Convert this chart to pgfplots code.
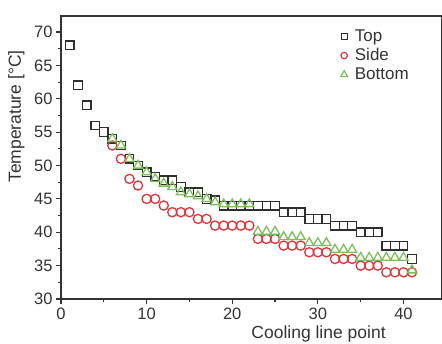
\documentclass[border=0pt]{standalone}
\usepackage{pgfplots}
\pgfplotsset{compat=1.18}
\usepackage{pgfplotstable}
\usepackage{fontspec}
\setmainfont{Liberation Sans}
\definecolor{axgray}{HTML}{333333}
\definecolor{sqcol}{HTML}{2E2E2E}
\definecolor{circcol}{HTML}{E0343A}
\definecolor{tricol}{HTML}{7DBE5C}

\pgfplotstableread{
x y
1 68
2 62
3 59
4 56
5 55
6 54
7 53
8 51
9 50
10 49
11 48.3
12 47.8
13 47.8
14 46.8
15 46
16 46
17 45
18 44.8
19 44
20 44
21 44
22 44
23 44
24 44
25 44
26 43
27 43
28 43
29 42
30 42
31 42
32 41
33 41
34 41
35 40
36 40
37 40
38 38
39 38
40 38
41 36
}\toptab

\pgfplotstableread{
x y
6 53
7 51
8 48
9 47
10 45
11 45
12 44
13 43
14 43
15 43
16 42
17 42
18 41
19 41
20 41
21 41
22 41
23 39
24 39
25 39
26 38
27 38
28 38
29 37
30 37
31 37
32 36
33 36
34 36
35 35
36 35
37 35
38 34
39 34
40 34
41 34
}\sidetab

\pgfplotstableread{
x y
6 54
7 53
8 51
9 50
10 49
11 48
12 47.3
13 46.8
14 46
15 45.7
16 45.4
17 45
18 44.5
19 44.2
20 44.2
21 44.2
22 44.2
23 40.1
24 40.1
25 40.1
26 39.3
27 39.3
28 39.3
29 38.4
30 38.4
31 38.4
32 37.4
33 37.4
34 37.4
35 36.2
36 36.2
37 36.2
38 36.2
39 36.2
40 36.2
41 34.3
}\bottab

\begin{document}
\begin{tikzpicture}
\begin{axis}[
  width=381pt, height=283pt,
  scale only axis,
  xmin=0, xmax=44.5,
  ymin=30, ymax=72.4,
  xtick={0,10,20,30,40},
  ytick={30,35,40,45,50,55,60,65,70},
  minor x tick num=1,
  minor y tick num=1,
  tick align=outside,
  xtick pos=bottom,
  ytick pos=left,
  major tick length=5pt,
  minor tick length=3pt,
  /pgf/number format/assume math mode=true,
  axis line style={axgray, line width=1.3pt},
  every tick/.style={axgray, line width=1.1pt},
  tick label style={font=\fontsize{16.5}{18}\selectfont, text=axgray},
  xlabel={Cooling line point},
  ylabel={Temperature [°C]},
  label style={font=\fontsize{17.5}{20}\selectfont, text=axgray},
  xlabel style={at={(ticklabel cs:0.676)}, anchor=north, inner sep=0pt, yshift=-3pt},
  ylabel style={at={(ticklabel cs:0.645)}, anchor=south, inner sep=0pt, yshift=6pt},
  legend style={at={(0.73,0.955)}, anchor=north west, draw=none, fill=none,
    font=\fontsize{17}{19}\selectfont, text=axgray, row sep=3.5pt, inner sep=0pt,
    nodes={inner sep=1pt}},
  legend image code/.code={\draw[#1] plot coordinates {(0cm,0cm)}; \path (-0.15cm,0cm) (0.32cm,0cm);},
  legend cell align=left,
  clip=false,
]
\addplot[only marks, mark=square, mark size=4.3pt, draw=sqcol, line width=1.3pt,
  legend image post style={mark size=3pt, line width=1.2pt}] table[x=x,y=y]{\toptab};
\addlegendentry{Top}
\addplot[only marks, mark=o, mark size=4.6pt, draw=circcol, line width=1.3pt,
  legend image post style={mark size=3.2pt, line width=1.2pt}] table[x=x,y=y]{\sidetab};
\addlegendentry{Side}
\addplot[only marks, mark=triangle, mark size=5.2pt, draw=tricol, line width=1.3pt,
  legend image post style={mark size=3.9pt, line width=1.2pt}] table[x=x,y=y]{\bottab};
\addlegendentry{Bottom}
\end{axis}
\pgfresetboundingbox
\path ([shift={(-61pt,-45pt)}]current axis.south west) rectangle ([shift={(0pt,16pt)}]current axis.north east);
\end{tikzpicture}
\end{document}
